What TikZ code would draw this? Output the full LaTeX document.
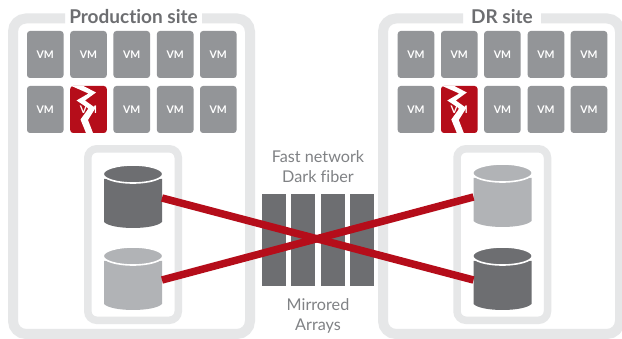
\documentclass[tikz,border=0pt]{standalone}
\usepackage{fontspec}
\setmainfont[Ligatures=NoCommon]{Lato}
\definecolor{framegray}{HTML}{E6E7E8}
\definecolor{vmgray}{HTML}{939598}
\definecolor{darkdb}{HTML}{6D6E71}
\definecolor{lightdb}{HTML}{B1B3B6}
\definecolor{failred}{HTML}{B50D1A}
\definecolor{labelgray}{HTML}{808285}
\tikzset{
  x=1pt,y=-1pt,
  siteframe/.style={draw=framegray,line width=10pt,rounded corners=13pt},
  arrayframe/.style={draw=framegray,line width=7.5pt,rounded corners=9pt},
  titlelabel/.style={font=\fontsize{19}{22}\selectfont\bfseries,text=darkdb,inner sep=0pt,anchor=base},
  vmbox/.style={fill=vmgray,draw=none,rounded corners=3pt,minimum width=36.6pt,minimum height=47pt,inner sep=0pt,text=white,font=\fontsize{10.5}{12}\selectfont\bfseries},
  vmfail/.style={vmbox,fill=failred},
  caption/.style={font=\fontsize{16.2}{19}\selectfont,text=labelgray,inner sep=0pt,anchor=base},
  barbox/.style={fill=darkdb,draw=none,minimum width=24pt,minimum height=92pt,inner sep=0pt},
  link/.style={draw=failred,line width=7.5pt},
}
% #1 name, #2 left x, #3 top y, #4 colour
\newcommand{\dbcyl}[4]{%
  \fill[#4] (#2,#3+13) -- (#2+58,#3+13) -- (#2+58,#3+56)
     .. controls (#2+50,#3+64) and (#2+8,#3+64) .. (#2,#3+56) -- cycle;
  \draw[white,line width=1.6pt,fill=#4] (#2+29,#3+8) ellipse [x radius=29.8pt,y radius=9pt];
  \coordinate (#1w) at (#2,#3+32);
  \coordinate (#1e) at (#2+58,#3+32);
}
\newcommand{\vmtext}{\raisebox{-2pt}{VM}}
\newcommand{\vmgrid}[7]{% #1 prefix, #2..#6 col centres, #7 failed-col centre
  \foreach \c/\xx in {1/#2,2/#3,3/#4,4/#5,5/#6}{
    \node[vmbox] (#1a\c) at (\xx,54.5) {\vmtext};
  }
  \foreach \c/\xx in {1/#2,3/#4,4/#5,5/#6}{
    \node[vmbox] (#1b\c) at (\xx,109.5) {\vmtext};
  }
  \node[vmfail] (#1b2) at (#3,109.5) {\vmtext};
  \begin{scope}[shift={(#7,0)}]
    \fill[white] (-17,86) -- (-5,86) -- (7.5,92.5) -- (-3.5,100.5) -- (7,108) -- (-0.5,120) -- (4.5,133) -- (-2.5,133) -- (-8,119.5) -- (0,108.5) -- (-12,100.5) -- (0,93.5) -- cycle;
  \end{scope}
}
\begin{document}
\begin{tikzpicture}
\useasboundingbox (0,0) rectangle (622,339);
\fill[white] (0,0) rectangle (622,339);
% site frames
\draw[siteframe] (65,18.5) -- (13,18.5) -- (13,334) -- (250,334) -- (250,18.5) -- (202,18.5);
\draw[siteframe] (463,18.5) -- (383,18.5) -- (383,334) -- (620,334) -- (620,18.5) -- (541,18.5);
\node[titlelabel] (prod) at (133.5,23.5) {Production site};
\node[titlelabel] (dr) at (502,23.5) {DR site};
% VMs
\vmgrid{p}{45.3}{88.5}{131.7}{175.2}{218.3}{88.5}
\vmgrid{d}{416}{459.3}{502.4}{546}{589}{459.3}
% array frames
\draw[arrayframe] (87.8,148.8) rectangle (178.3,320.3);
\draw[arrayframe] (457,148.8) rectangle (547.5,320.3);
% bars
\node[barbox] (b1) at (274,240) {};
\node[barbox] (b2) at (303,240) {};
\node[barbox] (b3) at (333,240) {};
\node[barbox] (b4) at (362,240) {};
% cylinders
\dbcyl{la}{104}{166}{darkdb}
\dbcyl{lb}{104}{248}{lightdb}
\dbcyl{ra}{473.5}{165}{lightdb}
\dbcyl{rb}{473.5}{248}{darkdb}
% links
\draw[link] (lae) -- (rbw);
\draw[link] (lbe) -- (raw);
% captions
\node[caption] (c1) at (318,163) {Fast network};
\node[caption] (c2) at (318,183) {Dark fiber};
\node[caption] (c3) at (318,311) {Mirrored};
\node[caption] (c4) at (318,331) {Arrays};
\end{tikzpicture}
\end{document}
